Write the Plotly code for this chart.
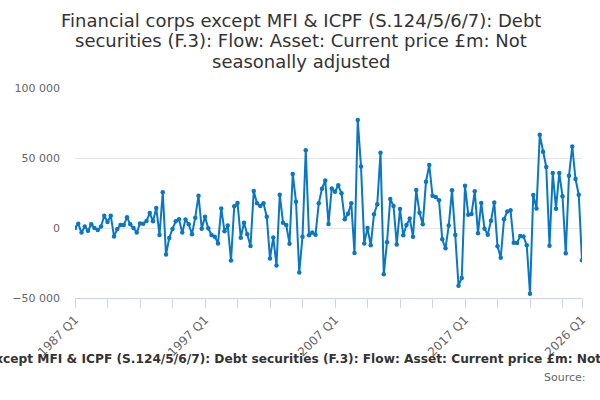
import plotly.graph_objects as go

# Quarterly categories 1987 Q1 .. 2026 Q1
years = list(range(1987, 2027))
quarters = [f"{y} Q{q}" for y in years for q in (1, 2, 3, 4)]
quarters = quarters[: quarters.index("2026 Q1") + 1]

values = [
    0, 3000, -3300, 1000, -2000, 2600, 0, -1500, 1000, 8800,
    4300, 8800, -6000, -700, 2100, 2100, 7600, 2600, 0, -3300,
    3300, 3100, 5000, 10700, 4800, 14300, -5000, 25500, -19000, -7100,
    -700, 4800, 6200, -3300, 6000, 2600, -4500, 7400, 23100, -500,
    8100, -200, -5000, -6200, -11000, 14000, -2400, 1700, -23300, 15500,
    17900, -6900, 3800, -4500, -12900, 26400, 17600, 15700, 17600, 8100,
    -21700, -6700, -26700, 23800, 3800, 2100, -11200, 38600, 18800, -31700,
    -6200, 55500, -5200, -3300, -4800, 17600, 28100, 34000, 2900, 28300,
    25900, 30500, 24800, 6200, 10200, 17600, -17900, 77100, 44000, -11000,
    0, -12400, 9800, 16900, 53800, -33100, -10200, 20700, 15700, -11700,
    13600, -5200, 2100, 6700, -6200, 27100, 10900, 2600, 33100, 45000,
    23100, 22100, 19800, -8100, -14500, 1700, 26900, -5000, -41200, -35700,
    30200, 9500, 10000, 26200, -3800, 17900, -500, -4800, 5200, 18300,
    -13100, -21200, 6200, 11700, 12600, -10500, -10700, -5700, -6000, -12400,
    -46900, 23600, 14000, 66600, 54500, 43600, -12600, 39300, 13800, 39300,
    22600, -18100, 37400, 58300, 35000, 23800, -23100,
]

tick_idx = list(range(0, len(quarters), 10)) + [len(quarters) - 1]
tick_vals = [quarters[i] for i in tick_idx]
label_years = {"1987 Q1", "1997 Q1", "2007 Q1", "2017 Q1", "2026 Q1"}
tick_text = [t if t in label_years else "" for t in tick_vals]

y_ticks = [-50000, 0, 50000, 100000]

title_lines = [
    "Financial corps except MFI & ICPF (S.124/5/6/7): Debt",
    "securities (F.3): Flow: Asset: Current price £m: Not",
    "seasonally adjusted",
]
series_name = ("Financial corps except MFI & ICPF (S.124/5/6/7): Debt securities (F.3): "
               "Flow: Asset: Current price £m: Not seasonally adjusted")

L, R_EDGE, T, B_EDGE = 71, 584, 88, 298
pw, ph = R_EDGE - L, B_EDGE - T


def px_x(px):
    return (px - L) / pw


def px_y(py):
    return (B_EDGE - py) / ph


fig = go.Figure()
fig.add_trace(go.Scatter(
    x=quarters, y=values, mode="lines+markers",
    line=dict(color="#0a77c2", width=2),
    marker=dict(color="#0a77c2", size=4.5),
    hoverinfo="x+y",
))

annotations = []
for py, line in zip([20, 40.5, 61], title_lines):
    annotations.append(dict(
        text=line, xref="paper", yref="paper", x=px_x(300), xanchor="center",
        y=px_y(py), yanchor="middle", showarrow=False,
        font=dict(family="DejaVu Sans", size=18, color="#333333")))
annotations.append(dict(
    text="<b>" + series_name + "</b>", xref="paper", yref="paper",
    x=px_x(309), xanchor="center", y=px_y(359), yanchor="middle",
    showarrow=False, font=dict(family="DejaVu Sans", size=12.2, color="#333333")))
annotations.append(dict(
    text="Source:", xref="paper", yref="paper",
    x=px_x(590), xanchor="right", y=px_y(377), yanchor="middle",
    showarrow=False, font=dict(family="DejaVu Sans", size=11, color="#666666")))

fig.update_layout(
    width=600, height=400,
    margin=dict(l=L, r=600 - R_EDGE, t=T, b=400 - B_EDGE),
    paper_bgcolor="white", plot_bgcolor="white",
    separators=". ",
    font=dict(family="DejaVu Sans", color="#333333"),
    showlegend=False,
    xaxis=dict(
        type="category", range=[0, len(quarters) - 1],
        tickmode="array", tickvals=tick_vals, ticktext=tick_text,
        tickangle=-45, ticks="outside", ticklen=9, tickcolor="#ccd6eb", tickwidth=1,
        showline=True, linecolor="#ccd6eb", linewidth=1,
        showgrid=False, zeroline=False,
        tickfont=dict(family="DejaVu Sans", size=12, color="#666666"),
    ),
    yaxis=dict(
        range=[-50000, 100000], tickmode="array", tickvals=y_ticks,
        tickformat=",", showgrid=True, gridcolor="#e6e6e6", gridwidth=1,
        zeroline=False, showline=False, ticks="", ticklabelstandoff=14,
        tickfont=dict(family="DejaVu Sans", size=11, color="#666666"),
    ),
    annotations=annotations,
)

fig.write_html("out.html", config={"displayModeBar": False},
               post_script="document.body.style.margin='0';")
